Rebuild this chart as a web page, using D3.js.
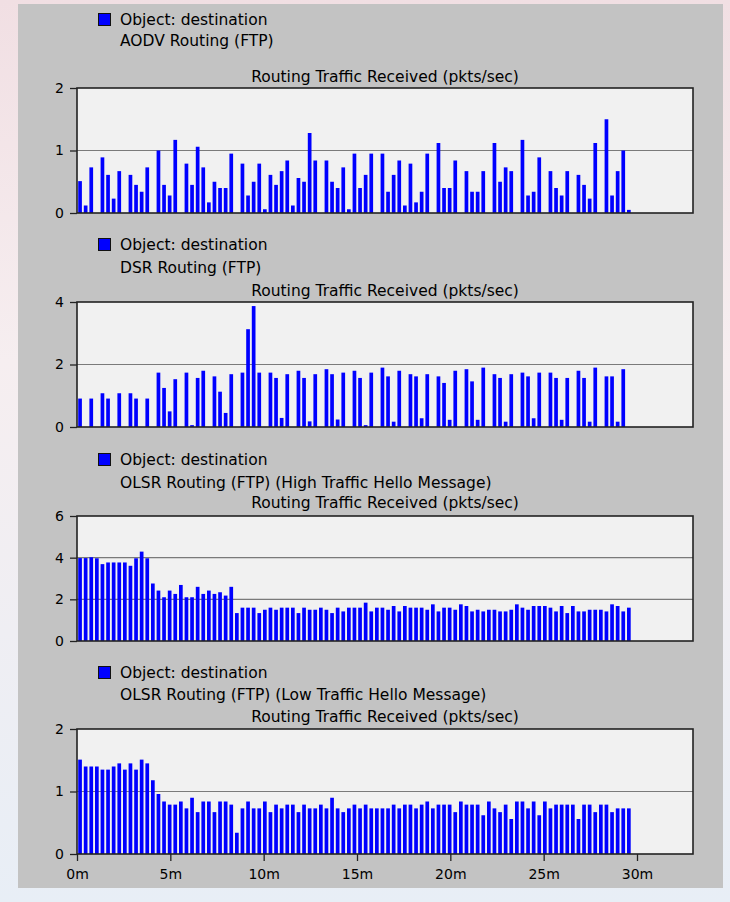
<!DOCTYPE html>
<html lang="en">
<head>
<meta charset="UTF-8">
<script src="https://cdnjs.cloudflare.com/ajax/libs/d3/7.8.5/d3.min.js"></script>
<style>
  body { margin: 0; background: #f6f2f3; }
  svg { display: block; font-family: "DejaVu Sans", sans-serif; }
</style>
</head>
<body>
<svg width="730" height="902"></svg>
<script>
// bucket size of the OPNET bar charts, in minutes (18 s)
const slotMinutes = 0.3;
const xTicks = [0, 5, 10, 15, 20, 25, 30];

const objectLabel = "Object: destination";
const chartTitle = "Routing Traffic Received (pkts/sec)";
const subtitles = [
  "AODV Routing (FTP)",
  "DSR Routing (FTP)",
  "OLSR Routing (FTP) (High Traffic Hello Message)",
  "OLSR Routing (FTP) (Low Traffic Hello Message)"
];
const yMaxes = [2, 4, 6, 2];
const yTicks = [[0, 1, 2], [0, 2, 4], [0, 2, 4, 6], [0, 1, 2]];

const aodv = [
  0.51, 0.12, 0.73, 0, 0.89, 0.61, 0.23, 0.67, 0, 0.61,
  0.45, 0.34, 0.73, 0, 1.0, 0.45, 0.28, 1.17, 0, 0.79,
  0.45, 1.06, 0.73, 0.17, 0.5, 0.4, 0.4, 0.95, 0, 0.79,
  0.28, 0.5, 0.79, 0.06, 0.61, 0.45, 0.67, 0.84, 0.12, 0.56,
  0.5, 1.28, 0.84, 0, 0.84, 0.5, 0.4, 0.73, 0.06, 0.95,
  0.4, 0.61, 0.95, 0, 0.95, 0.34, 0.61, 0.84, 0.12, 0.79,
  0.17, 0.34, 0.95, 0, 1.12, 0.4, 0.4, 0.84, 0, 0.67,
  0.34, 0.34, 0.67, 0, 1.12, 0.5, 0.73, 0.67, 0, 1.17,
  0.28, 0.34, 0.89, 0, 0.67, 0.4, 0.28, 0.67, 0, 0.61,
  0.45, 0.23, 1.12, 0, 1.5, 0.28, 0.67, 1.0, 0.05
];
const dsr = [
  0.91, 0, 0.91, 0, 1.08, 0.91, 0, 1.08, 0, 1.08,
  0.91, 0, 0.91, 0, 1.74, 1.25, 0.5, 1.53, 0, 1.74,
  0.06, 1.57, 1.8, 0, 1.62, 1.13, 0.45, 1.69, 0, 1.74,
  3.13, 3.87, 1.74, 0, 1.74, 1.57, 0.29, 1.69, 0, 1.8,
  1.57, 0.18, 1.69, 0, 1.85, 1.69, 0.24, 1.74, 0, 1.8,
  1.57, 0.06, 1.74, 0, 1.9, 1.62, 0.17, 1.8, 0, 1.69,
  1.62, 0.28, 1.69, 0, 1.62, 1.41, 0.23, 1.8, 0, 1.85,
  1.46, 0.23, 1.9, 0, 1.69, 1.57, 0.17, 1.69, 0, 1.74,
  1.62, 0.28, 1.74, 0, 1.74, 1.57, 0.23, 1.57, 0, 1.8,
  1.57, 0.17, 1.9, 0, 1.62, 1.62, 0.17, 1.85, 0
];
const olsrHigh = [
  3.98, 3.98, 4.02, 3.97, 3.69, 3.77, 3.77, 3.77, 3.77, 3.61,
  3.97, 4.29, 3.97, 2.76, 2.42, 2.1, 2.42, 2.26, 2.69, 2.1,
  2.1, 2.6, 2.26, 2.42, 2.26, 2.34, 2.18, 2.6, 1.34, 1.6,
  1.6, 1.6, 1.34, 1.5, 1.6, 1.5, 1.6, 1.6, 1.6, 1.34,
  1.6, 1.5, 1.5, 1.6, 1.5, 1.34, 1.6, 1.42, 1.6, 1.6,
  1.6, 1.84, 1.42, 1.6, 1.6, 1.5, 1.68, 1.42, 1.68, 1.6,
  1.6, 1.6, 1.5, 1.76, 1.42, 1.6, 1.6, 1.5, 1.76, 1.68,
  1.42, 1.5, 1.42, 1.5, 1.5, 1.42, 1.42, 1.5, 1.76, 1.6,
  1.5, 1.68, 1.68, 1.68, 1.6, 1.42, 1.68, 1.34, 1.68, 1.42,
  1.42, 1.5, 1.5, 1.5, 1.42, 1.76, 1.68, 1.42, 1.6
];
const olsrLow = [
  1.51, 1.4, 1.4, 1.4, 1.35, 1.35, 1.4, 1.45, 1.35, 1.45,
  1.35, 1.51, 1.45, 1.18, 0.96, 0.84, 0.79, 0.79, 0.84, 0.73,
  0.9, 0.67, 0.84, 0.84, 0.67, 0.84, 0.84, 0.79, 0.34, 0.73,
  0.84, 0.73, 0.73, 0.84, 0.67, 0.79, 0.73, 0.79, 0.79, 0.67,
  0.79, 0.73, 0.73, 0.79, 0.73, 0.9, 0.73, 0.67, 0.73, 0.79,
  0.73, 0.79, 0.73, 0.73, 0.73, 0.73, 0.79, 0.73, 0.79, 0.79,
  0.73, 0.79, 0.84, 0.73, 0.79, 0.79, 0.79, 0.67, 0.84, 0.79,
  0.79, 0.79, 0.62, 0.84, 0.73, 0.67, 0.79, 0.56, 0.84, 0.84,
  0.73, 0.84, 0.62, 0.84, 0.73, 0.79, 0.79, 0.79, 0.79, 0.56,
  0.79, 0.79, 0.67, 0.79, 0.79, 0.67, 0.73, 0.73, 0.73
];
const seriesList = [aodv, dsr, olsrHigh, olsrLow];

// layout
const plotLeft = 77, plotRight = 693, plotH = 125;
const plotTops = [88, 302, 516, 729];
// header baselines, relative to the plot top: object line, subtitle, title
const headerOffsets = [[-63, -42, -6], [-52, -29, -6.5], [-51, -28, -8.5], [-51, -29, -7.5]];

const svg = d3.select("svg");

const defs = svg.append("defs");
const side = defs.append("linearGradient").attr("id", "side")
  .attr("x1", 0).attr("y1", 0).attr("x2", 0).attr("y2", 1);
side.append("stop").attr("offset", "0%").attr("stop-color", "#f1dfe3");
side.append("stop").attr("offset", "40%").attr("stop-color", "#f6eef0");
side.append("stop").attr("offset", "100%").attr("stop-color", "#e8eef6");

svg.append("rect").attr("width", 730).attr("height", 902).attr("fill", "url(#side)");
svg.append("rect")
  .attr("x", 18).attr("y", 4).attr("width", 705).attr("height", 884)
  .attr("fill", "#c3c3c3");

const x = d3.scaleLinear().domain([0, 33]).range([plotLeft, plotRight]);

seriesList.forEach((values, k) => {
  const top = plotTops[k];
  const y = d3.scaleLinear().domain([0, yMaxes[k]]).range([top + plotH, top]);
  const g = svg.append("g");
  const off = headerOffsets[k];

  // header
  g.append("rect")
    .attr("x", 98.5).attr("y", top + off[0] - 11.5)
    .attr("width", 12).attr("height", 12)
    .attr("fill", "#0000ff").attr("stroke", "#111").attr("stroke-width", 1);
  g.append("text").attr("x", 120).attr("y", top + off[0])
    .attr("font-size", 15.5).text(objectLabel);
  g.append("text").attr("x", 120).attr("y", top + off[1])
    .attr("font-size", 15.5).text(subtitles[k]);
  g.append("text").attr("x", (plotLeft + plotRight) / 2).attr("y", top + off[2])
    .attr("text-anchor", "middle").attr("font-size", 15.5).text(chartTitle);

  // plot area
  g.append("rect")
    .attr("x", plotLeft).attr("y", top)
    .attr("width", plotRight - plotLeft).attr("height", plotH)
    .attr("fill", "#f1f1f1");

  g.selectAll(".grid")
    .data(yTicks[k].filter(t => t > 0 && t < yMaxes[k]))
    .join("line")
    .attr("x1", plotLeft).attr("x2", plotRight)
    .attr("y1", d => y(d)).attr("y2", d => y(d))
    .attr("stroke", "#7a7a7a").attr("stroke-width", 1.2);

  g.selectAll(".bar")
    .data(values.map((v, i) => ({ i, v })).filter(d => d.v > 0))
    .join("rect")
    .attr("x", d => x(d.i * slotMinutes) + 1.2)
    .attr("width", 3.7)
    .attr("y", d => y(d.v))
    .attr("height", d => y(0) - y(d.v))
    .attr("fill", "#0000ff");

  g.append("rect")
    .attr("x", plotLeft).attr("y", top)
    .attr("width", plotRight - plotLeft).attr("height", plotH)
    .attr("fill", "none").attr("stroke", "#222").attr("stroke-width", 1.6);

  // y axis
  const yAxis = d3.axisLeft(y).tickValues(yTicks[k]).tickSize(7).tickPadding(6)
    .tickFormat(d3.format("d"));
  const ya = g.append("g").attr("transform", `translate(${plotLeft},0)`).call(yAxis);
  ya.select(".domain").remove();
  ya.selectAll("line").attr("stroke", "#222").attr("stroke-width", 1.3);
  ya.selectAll("text").attr("font-size", 14).attr("fill", "#000")
    .attr("font-family", "DejaVu Sans");

  // x axis on the last chart only
  if (k === seriesList.length - 1) {
    const xAxis = d3.axisBottom(x).tickValues(xTicks).tickSize(7).tickPadding(8)
      .tickFormat(d => d + "m");
    const xa = g.append("g").attr("transform", `translate(0,${top + plotH})`).call(xAxis);
    xa.select(".domain").remove();
    xa.selectAll("line").attr("stroke", "#222").attr("stroke-width", 1.3);
    xa.selectAll("text").attr("font-size", 14).attr("fill", "#000")
      .attr("font-family", "DejaVu Sans");
  }
});
</script>
</body>
</html>
